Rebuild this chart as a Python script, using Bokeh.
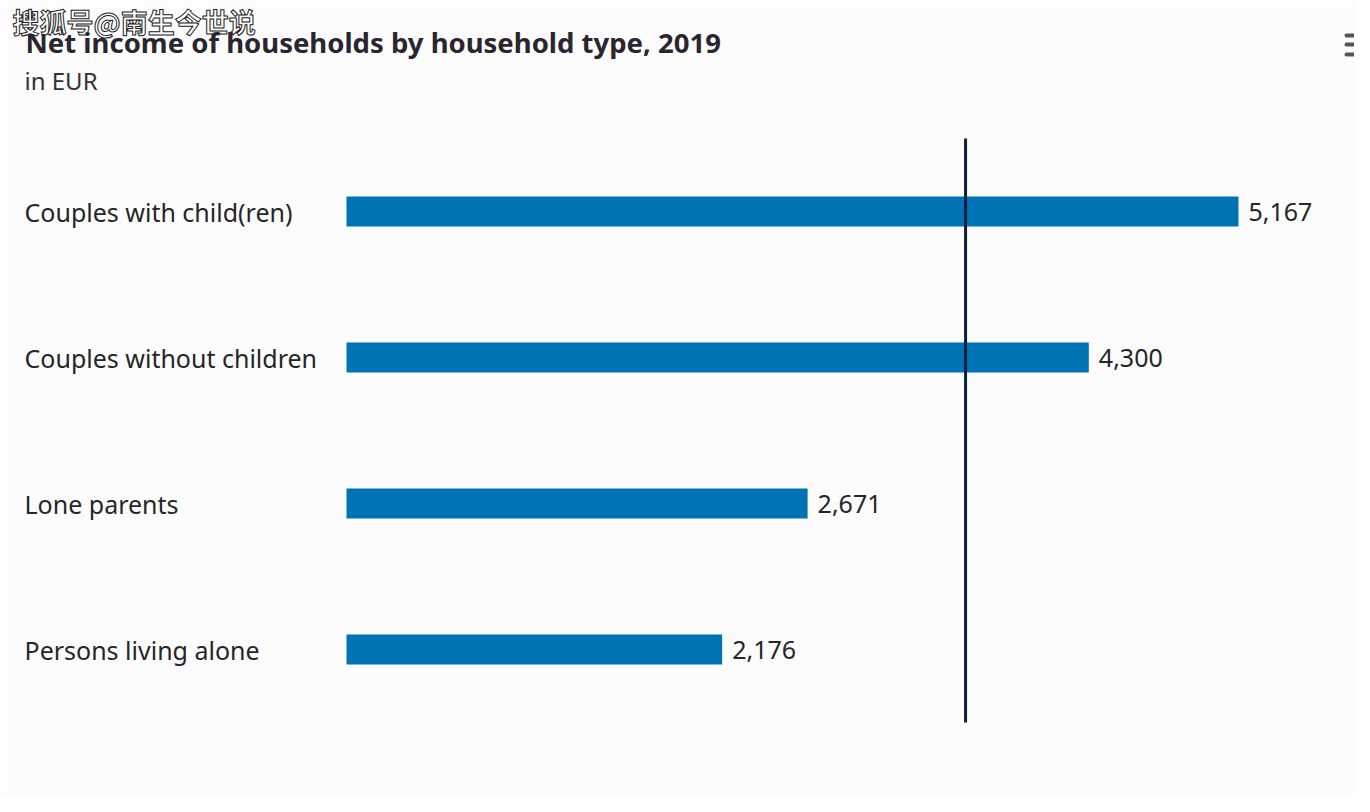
from bokeh.plotting import figure
from bokeh.models import Range1d, Label, ColumnDataSource
from bokeh.core.properties import value
from bokeh.embed import file_html
from bokeh.resources import INLINE

categories = ["Couples with child(ren)", "Couples without children", "Lone parents", "Persons living alone"]
values = [5167, 4300, 2671, 2176]
value_labels = ["5,167", "4,300", "2,671", "2,176"]
reference_value = 3586
title_text = "Net income of households by household type, 2019"
subtitle_text = "in EUR"
watermark_text = "搜狐号@南生今世说"

W, H = 1354, 796
px_per_unit = (1246 - 354) / 5167.0
bar_left_px = 346
x_start = -bar_left_px / px_per_unit
x_end = (W - bar_left_px) / px_per_unit
row_px = 146.0
first_center_px = 211.0
y_top = -first_center_px / row_px
y_bottom = (len(categories) - 1) + (H - (first_center_px + row_px * (len(categories) - 1))) / row_px


def sx(px):
    return x_start + px / px_per_unit


def sy(py):
    return y_top + py / row_px


p = figure(width=W, height=H, output_backend="svg", toolbar_location=None,
           x_range=Range1d(x_start, x_end), y_range=Range1d(y_bottom, y_top),
           min_border=0, min_border_left=0, min_border_right=0, min_border_top=0, min_border_bottom=0)
p.axis.visible = False
p.grid.visible = False
p.outline_line_color = None
p.background_fill_color = "#fcfcfd"
p.border_fill_color = "#fcfcfd"

idx = list(range(len(categories)))
src = ColumnDataSource(dict(y=idx, v=values, cat=categories, lab=value_labels, zero=[0] * len(values)))

p.hbar(y="y", left=0, right="v", height=30 / row_px, source=src, color="#0073b5", line_color=None)

p.segment(x0=[reference_value], x1=[reference_value], y0=[-0.5], y1=[len(categories) - 0.5],
          line_color="#0e1f3b", line_width=3)

p.text(x="v", y="y", text="lab", source=src, x_offset=10, text_baseline="middle", text_align="left",
       text_font=value("Noto Sans"), text_font_size="25px", text_color="#262626")
p.text(x="zero", y="y", text="cat", source=src, x_offset=-322, text_baseline="middle", text_align="left",
       text_font=value("Noto Sans"), text_font_size="25px", text_color="#262626")

p.add_layout(Label(x=25, y=H - 42, x_units="screen", y_units="screen", text=title_text,
                   text_font="Noto Sans", text_font_style="bold", text_font_size="27.5px",
                   text_color="#2b2530", text_baseline="middle"))
p.add_layout(Label(x=24, y=H - 80, x_units="screen", y_units="screen", text=subtitle_text,
                   text_font="Noto Sans", text_font_size="24px", text_color="#333333", text_baseline="middle"))

# menu icon (three short bars)
for py in (35, 44, 54):
    p.segment(x0=[sx(1346)], x1=[sx(1354)], y0=[sy(py)], y1=[sy(py)],
              line_color="#555555", line_width=4, line_cap="round")

p.text(x=[x_start], y=[y_top], text=[watermark_text], x_offset=12, y_offset=21,
       text_baseline="middle", text_align="left", text_font=value("Noto Sans CJK SC"),
       text_font_size="27px", text_color="white", text_font_style="bold",
       text_outline_color="#222222")

open("out.html", "w").write(file_html(p, INLINE))
